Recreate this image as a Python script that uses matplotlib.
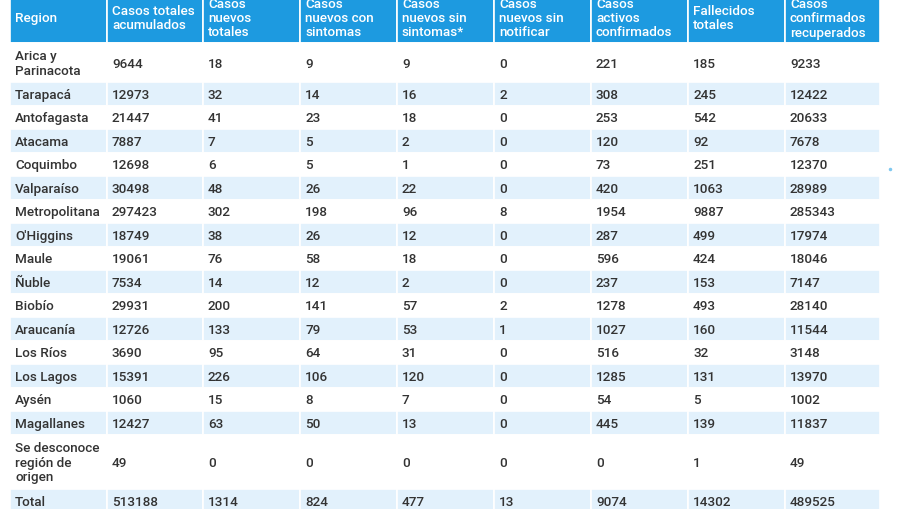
import matplotlib
matplotlib.use('Agg')
import matplotlib.pyplot as plt
from matplotlib.patches import Rectangle
from matplotlib import font_manager

plt.rcParams['font.family'] = ['Roboto', 'DejaVu Sans']

headers = ["Region", "Casos totales\nacumulados", "Casos\nnuevos\ntotales",
           "Casos\nnuevos con\nsintomas", "Casos\nnuevos sin\nsintomas*",
           "Casos\nnuevos sin\nnotificar", "Casos\nactivos\nconfirmados",
           "Fallecidos\ntotales", "Casos\nconfirmados\nrecuperados"]

regions = ["Arica y\nParinacota", "Tarapacá", "Antofagasta", "Atacama", "Coquimbo",
           "Valparaíso", "Metropolitana", "O'Higgins", "Maule", "Ñuble", "Biobío",
           "Araucanía", "Los Ríos", "Los Lagos", "Aysén", "Magallanes",
           "Se desconoce\nregión de\norigen", "Total"]

casos_totales = [9644, 12973, 21447, 7887, 12698, 30498, 297423, 18749, 19061, 7534,
                 29931, 12726, 3690, 15391, 1060, 12427, 49, 513188]
nuevos_totales = [18, 32, 41, 7, 6, 48, 302, 38, 76, 14, 200, 133, 95, 226, 15, 63, 0, 1314]
con_sintomas = [9, 14, 23, 5, 5, 26, 198, 26, 58, 12, 141, 79, 64, 106, 8, 50, 0, 824]
sin_sintomas = [9, 16, 18, 2, 1, 22, 96, 12, 18, 2, 57, 53, 31, 120, 7, 13, 0, 477]
sin_notificar = [0, 2, 0, 0, 0, 0, 8, 0, 0, 0, 2, 1, 0, 0, 0, 0, 0, 13]
activos = [221, 308, 253, 120, 73, 420, 1954, 287, 596, 237, 1278, 1027, 516, 1285, 54,
           445, 0, 9074]
fallecidos = [185, 245, 542, 92, 251, 1063, 9887, 499, 424, 153, 493, 160, 32, 131, 5,
              139, 1, 14302]
recuperados = [9233, 12422, 20633, 7678, 12370, 28989, 285343, 17974, 18046, 7147, 28140,
               11544, 3148, 13970, 1002, 11837, 49, 489525]

columns = [regions, casos_totales, nuevos_totales, con_sintomas, sin_sintomas,
           sin_notificar, activos, fallecidos, recuperados]

col_x = [10, 107, 203, 300, 397, 494, 591, 688, 785, 880]
header_color = '#1D9AE0'
stripe_color = '#E2F1FC'
text_color = '#333333'
fs = 9.7

# pick Roboto Medium if it is installed, otherwise fall back to the regular face
medium = None
for f in font_manager.fontManager.ttflist:
    if f.name == 'Roboto' and f.weight == 500 and f.style == 'normal':
        medium = f.fname
        break
body_font = font_manager.FontProperties(fname=medium, size=fs) if medium else \
    font_manager.FontProperties(family='Roboto', size=fs)
head_font = font_manager.FontProperties(family='Roboto', weight='bold', size=fs) \
    if not medium else font_manager.FontProperties(fname=medium, size=fs)

fig = plt.figure(figsize=(9, 5.1), dpi=100)
ax = fig.add_axes([0, 0, 1, 1])
ax.set_xlim(0, 900)
ax.set_ylim(510, 0)
ax.axis('off')

# header
for j, h in enumerate(headers):
    x0, x1 = col_x[j], col_x[j + 1]
    ax.add_patch(Rectangle((x0, -20), x1 - x0, 64, facecolor=header_color,
                           edgecolor='white', linewidth=1.2))
    ax.text(x0 + 5, 18.5, h, color='white', fontproperties=head_font,
            va='center', ha='left', linespacing=1.15)

# body rows
y = 44
for i in range(len(regions)):
    nlines = regions[i].count('\n') + 1
    hgt = 23.5 + (nlines - 1) * 15.5
    fc = stripe_color if i % 2 == 1 else 'white'
    for j, col in enumerate(columns):
        x0, x1 = col_x[j], col_x[j + 1]
        ax.add_patch(Rectangle((x0, y), x1 - x0, hgt, facecolor=fc,
                               edgecolor='white', linewidth=1.2))
        ax.text(x0 + 5, y + hgt / 2 + 0.5, str(col[i]), color=text_color,
                fontproperties=body_font, va='center', ha='left', linespacing=1.15)
    y += hgt

ax.plot([890], [170], marker='o', markersize=1.5, color='#7fc8f0', ls='none')

fig.savefig('out.png', dpi=100)
